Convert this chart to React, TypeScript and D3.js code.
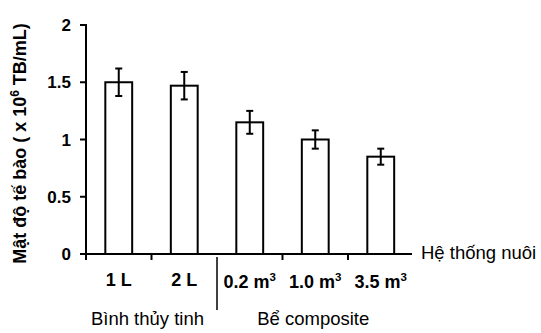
import React from "react";
import * as d3 from "d3";

const categories = ["1 L", "2 L", "0.2 m", "1.0 m", "3.5 m"];
const categorySup = ["", "", "3", "3", "3"];
const values = [1.5, 1.47, 1.15, 1.0, 0.85];
const errors = [0.12, 0.12, 0.1, 0.08, 0.07];
const yTicks = [0, 0.5, 1, 1.5, 2];
const yTickLabels = ["0", "0.5", "1", "1.5", "2"];
const groups = [
  { label: "Bình thủy tinh", from: 0, to: 2 },
  { label: "Bể composite", from: 2, to: 5 },
];

export default function App() {
  const W = 541, H = 333;
  const x0 = 86, x1 = 413.5, yTop = 25, yBot = 254;
  const y = d3.scaleLinear().domain([0, 2]).range([yBot, yTop]);
  const x = d3.scaleBand<number>().domain(d3.range(categories.length)).range([x0, x1]).paddingInner(0.59).paddingOuter(0.295);
  const step = x.step();
  const bandStart = (i: number) => x0 + i * step;
  const font = "'Liberation Sans', Arial, sans-serif";
  const capW = 7;
  return (
    <svg width={W} height={H} style={{ position: "absolute", left: 0, top: 0 }} fontFamily={font}>
      <rect width={W} height={H} fill="#fff" />
      {values.map((v, i) => (
        <rect key={"b" + i} x={x(i)!} y={y(v)} width={x.bandwidth()} height={yBot - y(v)} fill="#fff" stroke="#000" strokeWidth={2} />
      ))}
      {values.map((v, i) => {
        const cx = x(i)! + x.bandwidth() / 2;
        return (
          <g key={"e" + i} stroke="#000" strokeWidth={2}>
            <line x1={cx} x2={cx} y1={y(v + errors[i])} y2={y(v - errors[i])} />
            <line x1={cx - capW / 2} x2={cx + capW / 2} y1={y(v + errors[i])} y2={y(v + errors[i])} />
            <line x1={cx - capW / 2} x2={cx + capW / 2} y1={y(v - errors[i])} y2={y(v - errors[i])} />
          </g>
        );
      })}
      <line x1={x0} x2={x0} y1={yTop - 1} y2={yBot} stroke="#000" strokeWidth={2} />
      {yTicks.map((t, i) => (
        <g key={"yt" + i}>
          <line x1={x0 - 6} x2={x0} y1={y(t)} y2={y(t)} stroke="#000" strokeWidth={2} />
          <text x={x0 - 15} y={y(t)} dy="0.36em" textAnchor="end" fontSize={17} fontWeight="bold">{yTickLabels[i]}</text>
        </g>
      ))}
      <line x1={x0 - 6} x2={412} y1={yBot} y2={yBot} stroke="#000" strokeWidth={2} />
      {d3.range(categories.length).filter((i) => i !== 2).map((i) => (
        <line key={"xt" + i} x1={bandStart(i)} x2={bandStart(i)} y1={yBot} y2={yBot + 6} stroke="#000" strokeWidth={2} />
      ))}
      <line x1={bandStart(2)} x2={bandStart(2)} y1={yBot + 3} y2={310} stroke="#000" strokeWidth={1.5} />
      {categories.map((c, i) => (
        <text key={"xl" + i} x={x(i)! + x.bandwidth() / 2} y={categorySup[i] ? 288 : 286} textAnchor="middle" fontSize={18} fontWeight="bold">
          {c}
          {categorySup[i] && <tspan dy={-7} fontSize={11.5}>{categorySup[i]}</tspan>}
        </text>
      ))}
      {groups.map((g, i) => (
        <text key={"g" + i} x={(bandStart(g.from) + bandStart(g.to)) / 2 - (i === 0 ? 4 : 2)} y={325} textAnchor="middle" fontSize={18.5}>{g.label}</text>
      ))}
      <text x={421} y={259} fontSize={18.5}>Hệ thống nuôi</text>
      <text transform={`translate(25.5,143.5) rotate(-90)`} textAnchor="middle" fontSize={18} fontWeight="bold">
        Mật độ tế bào ( x 10<tspan dy={-7} fontSize={12}>6</tspan><tspan dy={7}> TB/mL)</tspan>
      </text>
    </svg>
  );
}
